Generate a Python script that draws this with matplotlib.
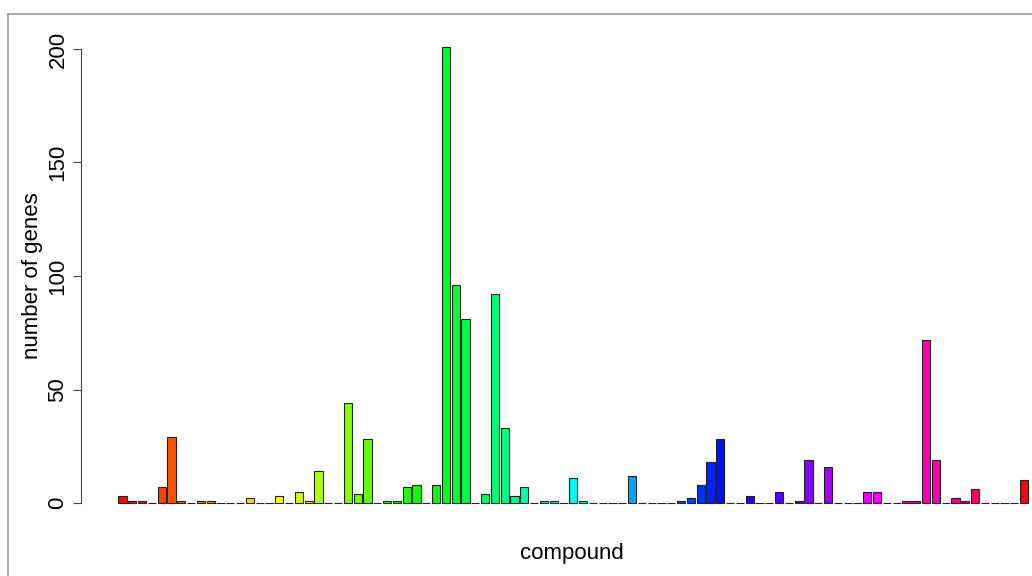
import numpy as np
import matplotlib
matplotlib.use("Agg")
import matplotlib.pyplot as plt
from matplotlib.colors import hsv_to_rgb
from matplotlib.lines import Line2D

plt.rcParams['font.family'] = ['Liberation Sans', 'DejaVu Sans']

# number of genes per compound (left to right)
genes = [3, 1, 1, 0, 7, 29, 1, 0, 1, 1,
         0, 0, 0, 2, 0, 0, 3, 0, 5, 1,
         14, 0, 0, 44, 4, 28, 0, 1, 1, 7,
         8, 0, 8, 201, 96, 81, 0, 4, 92, 33,
         3, 7, 0, 1, 1, 0, 11, 1, 0, 0,
         0, 0, 12, 0, 0, 0, 0, 1, 2, 8,
         18, 28, 0, 0, 3, 0, 0, 5, 0, 1,
         19, 0, 16, 0, 0, 0, 5, 5, 0, 0,
         1, 1, 72, 19, 0, 2, 1, 6, 0, 0,
         0, 0, 10]
y_ticks = [0, 50, 100, 150, 200]

n = len(genes)
# R-style rainbow(n)
colors = [hsv_to_rgb((i / n, 1.0, 1.0)) for i in range(n)]

W, H = 1032, 576
fig = plt.figure(figsize=(W / 100, H / 100), dpi=100)

# pixel geometry of the plot region
pitch = 9.8
x0_px = 122.5          # centre of first bar
left_px, right_px = 81, W
base_px, top200_px = 503, 49
ppu = (base_px - top200_px) / 200.0
ymax = 210
top_px = base_px - ymax * ppu

ax = fig.add_axes([left_px / W, 1 - base_px / H,
                   (right_px - left_px) / W, (base_px - top_px) / H])
ax.bar(np.arange(n), genes, width=1 / 1.2, color=colors,
       edgecolor='#222222', linewidth=0.8, clip_on=False)
ax.set_xlim((left_px - x0_px) / pitch, (right_px - x0_px) / pitch)
ax.set_ylim(0, ymax)

for s in ['top', 'right', 'bottom']:
    ax.spines[s].set_visible(False)
ax.spines['left'].set_bounds(0, 200)
ax.spines['left'].set_color('#444444')
ax.spines['left'].set_linewidth(0.8)
ax.set_xticks([])
ax.set_yticks(y_ticks)
ax.set_yticklabels([str(t) for t in y_ticks], rotation=90, va='center',
                   fontsize=16)
ax.tick_params(axis='y', length=6, width=0.8, color='#444444', pad=3)

fig.text(33 / W, 1 - 276 / H, 'number of genes', rotation=90,
         ha='center', va='center', fontsize=16)
fig.text(572 / W, 1 - 553 / H, 'compound', ha='center', va='center',
         fontsize=16)

# grey frame of the screenshot
fig.add_artist(Line2D([7.5 / W, 1], [1 - 13.5 / H, 1 - 13.5 / H],
                      transform=fig.transFigure, color='#999999', lw=1.2))
fig.add_artist(Line2D([7.5 / W, 7.5 / W], [0, 1 - 13.5 / H],
                      transform=fig.transFigure, color='#999999', lw=1.2))

fig.savefig('out.png', dpi=100)
